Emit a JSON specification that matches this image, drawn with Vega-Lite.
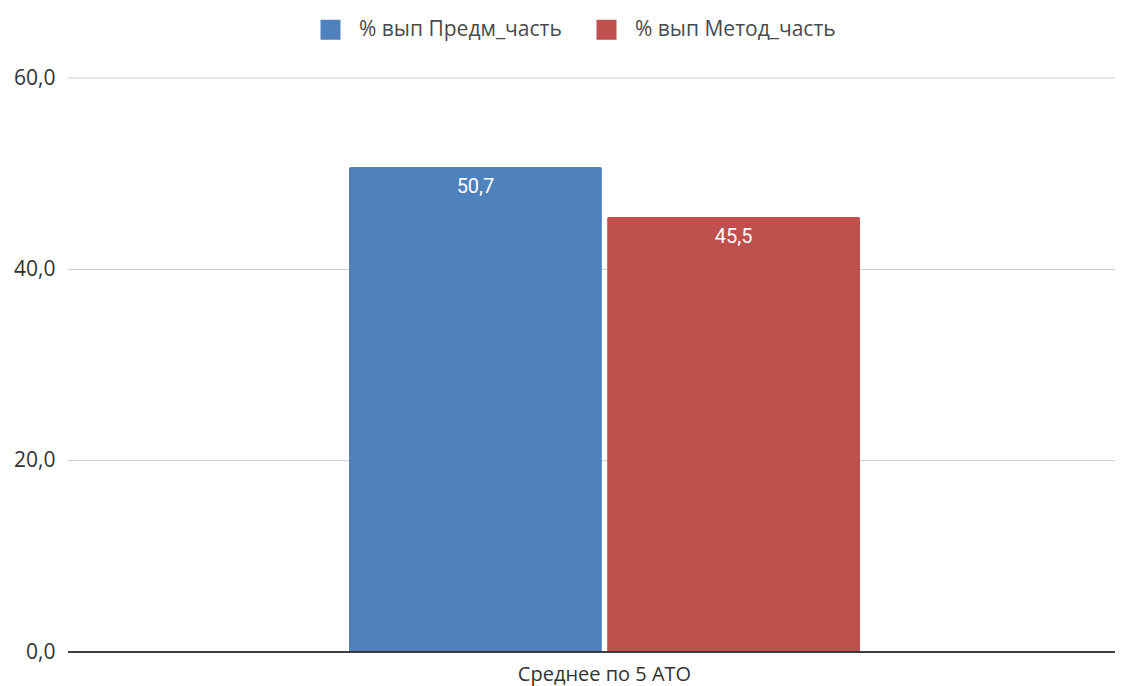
{
  "$schema": "https://vega.github.io/schema/vega-lite/v6.json",
  "width": 1047,
  "height": 574,
  "autosize": {"type": "none"},
  "padding": {"left": 68, "top": 78, "right": 14, "bottom": 34},
  "background": "white",
  "config": {
    "locale": {"number": {"decimal": ",", "thousands": " ", "grouping": [3], "currency": ["", ""]}},
    "font": "Roboto",
    "view": {"stroke": null}
  },
  "data": {
    "values": [
      {"cat": "Среднее по 5 АТО", "series": "% вып Предм_часть", "value": 50.7},
      {"cat": "Среднее по 5 АТО", "series": "% вып Метод_часть", "value": 45.5}
    ]
  },
  "layer": [
    {
      "data": {"values": [{"g": 20}, {"g": 40}, {"g": 60}]},
      "mark": {"type": "rule", "color": "#cccccc", "strokeWidth": 1},
      "encoding": {"y": {"field": "g", "type": "quantitative"}}
    },
    {
      "mark": {"type": "bar", "cornerRadiusTopLeft": 2, "cornerRadiusTopRight": 2},
      "encoding": {
        "x": {"field": "cat", "type": "nominal", "title": null,
          "scale": {"range": [281, 792], "paddingInner": 0, "paddingOuter": 0},
          "axis": {"domain": false, "ticks": false, "grid": false, "labelAngle": 0, "labelFontSize": 20, "labelColor": "#333333", "labelPadding": 12, "labelFont": "Open Sans"}},
        "xOffset": {"field": "series", "type": "nominal", "sort": ["% вып Предм_часть", "% вып Метод_часть"], "scale": {"paddingInner": 0.02}},
        "y": {"field": "value", "type": "quantitative", "title": null,
          "scale": {"domain": [0, 60]},
          "axis": {"values": [0, 20, 40, 60], "format": ".1f", "domain": false, "ticks": false, "grid": false, "labelFontSize": 21, "labelColor": "#333333", "labelPadding": 13, "labelFont": "Open Sans"}},
        "color": {"field": "series", "type": "nominal", "sort": ["% вып Предм_часть", "% вып Метод_часть"],
          "scale": {"domain": ["% вып Предм_часть", "% вып Метод_часть"], "range": ["#4F81BD", "#C0504D"]},
          "legend": {"title": null, "orient": "none", "direction": "horizontal", "legendX": 252, "legendY": -59,
            "symbolType": "square", "symbolSize": 400, "symbolStrokeWidth": 0, "labelFontSize": 21, "labelLimit": 400, "labelColor": "#4a4a4a", "labelFont": "Open Sans", "labelOffset": 18, "columnPadding": 34}}
      }
    },
    {
      "mark": {"type": "text", "color": "white", "fontSize": 20, "baseline": "top", "dy": 10, "font": "Roboto"},
      "encoding": {
        "x": {"field": "cat", "type": "nominal"},
        "xOffset": {"field": "series", "type": "nominal", "sort": ["% вып Предм_часть", "% вып Метод_часть"]},
        "y": {"field": "value", "type": "quantitative"},
        "text": {"field": "value", "type": "quantitative", "format": ".1f"}
      }
    },
    {
      "mark": {"type": "rule", "color": "#333333", "strokeWidth": 1.5},
      "encoding": {"y": {"datum": 0}}
    }
  ]
}
